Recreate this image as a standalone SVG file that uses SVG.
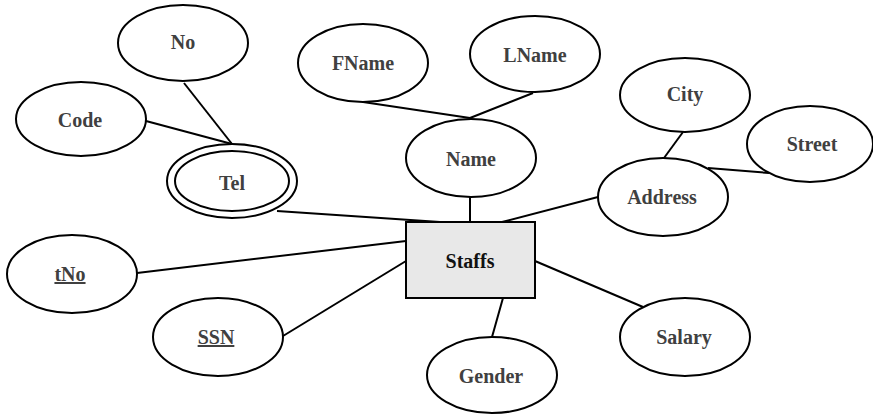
<svg xmlns="http://www.w3.org/2000/svg" width="873" height="417" viewBox="0 0 873 417">
<style>
.e{fill:#fff;stroke:#000;stroke-width:2}
.c line{stroke:#000;stroke-width:2}
.t{font-family:"Liberation Serif","Times New Roman",serif;font-weight:bold;font-size:20px;fill:#404040;text-anchor:middle}
.k{text-decoration:underline}
</style>
<rect width="873" height="417" fill="#fff"/>
<g class="c" id="connectors">
<line x1="184" y1="83" x2="232" y2="144"/>
<line x1="146" y1="121" x2="232" y2="144"/>
<line x1="363" y1="102" x2="470" y2="118"/>
<line x1="533" y1="93" x2="470" y2="118"/>
<line x1="683" y1="132" x2="664" y2="158"/>
<line x1="769" y1="173" x2="708" y2="168"/>
<line x1="470" y1="197" x2="470" y2="222"/>
<line x1="502" y1="222" x2="598" y2="197"/>
<line x1="277" y1="211" x2="440" y2="222"/>
<line x1="137" y1="273" x2="406" y2="241"/>
<line x1="283" y1="336" x2="406" y2="261"/>
<line x1="535" y1="261" x2="643" y2="307"/>
<line x1="503" y1="298" x2="492" y2="337"/>
</g>
<g id="No"><ellipse class="e" cx="183" cy="43" rx="65" ry="38"/><text class="t" x="183" y="49">No</text></g>
<g id="Code"><ellipse class="e" cx="81" cy="119" rx="65" ry="37"/><text class="t" x="80" y="127">Code</text></g>
<g id="Tel"><ellipse class="e" cx="232" cy="181" rx="65" ry="37"/><ellipse class="e" cx="232" cy="181" rx="57" ry="30"/><text class="t" x="232" y="190">Tel</text></g>
<g id="FName"><ellipse class="e" cx="363" cy="63" rx="65" ry="39"/><text class="t" x="363" y="70">FName</text></g>
<g id="LName"><ellipse class="e" cx="535" cy="54" rx="65" ry="38"/><text class="t" x="535" y="62">LName</text></g>
<g id="Name"><ellipse class="e" cx="471" cy="158" rx="65" ry="39"/><text class="t" x="471" y="166">Name</text></g>
<g id="City"><ellipse class="e" cx="685" cy="95" rx="65" ry="37"/><text class="t" x="685" y="101">City</text></g>
<g id="Street"><ellipse class="e" cx="810" cy="144" rx="63" ry="38"/><text class="t" x="812" y="151">Street</text></g>
<g id="Address"><ellipse class="e" cx="663" cy="197" rx="65" ry="39"/><text class="t" x="662" y="204">Address</text></g>
<g id="Staffs"><rect x="406" y="222" width="129" height="76" fill="#e8e8e8" stroke="#000" stroke-width="2"/><text class="t" x="470" y="268" style="fill:#111">Staffs</text></g>
<g id="tNo"><ellipse class="e" cx="72" cy="274" rx="65" ry="39"/><text class="t k" x="70" y="281">tNo</text></g>
<g id="SSN"><ellipse class="e" cx="218" cy="337" rx="65" ry="39"/><text class="t k" x="216" y="344">SSN</text></g>
<g id="Gender"><ellipse class="e" cx="492" cy="375" rx="65" ry="38"/><text class="t" x="491" y="383">Gender</text></g>
<g id="Salary"><ellipse class="e" cx="685" cy="337" rx="65" ry="39"/><text class="t" x="684" y="344">Salary</text></g>
</svg>
